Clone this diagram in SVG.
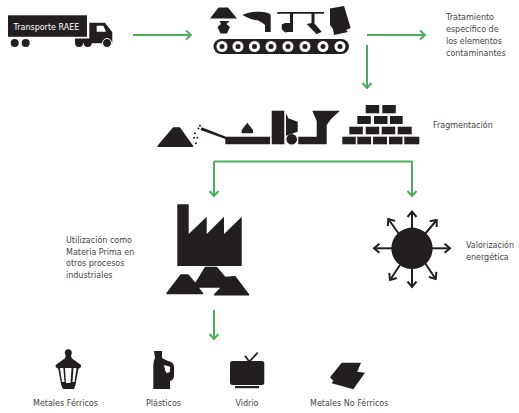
<svg xmlns="http://www.w3.org/2000/svg" width="519" height="413" viewBox="0 0 519 413">
<defs>
<marker id="ah" markerUnits="userSpaceOnUse" markerWidth="12" markerHeight="12" refX="8" refY="6" orient="auto"><path d="M3 1.500L8 6L3 10.500" fill="none" stroke="#4caf5c" stroke-width="2"/></marker>
<marker id="bh" markerUnits="userSpaceOnUse" markerWidth="12" markerHeight="12" refX="8" refY="6" orient="auto"><path d="M2.500 1.500L8 6L2.500 10.500" fill="none" stroke="#231f20" stroke-width="2"/></marker>
</defs>
<style>
text{font-family:"DejaVu Sans",Verdana,sans-serif;font-size:8px;fill:#444}
.k{fill:#231f20}
.w{fill:#fff}
.s{fill:#231f20;stroke:#231f20;stroke-width:1.500;stroke-linejoin:round}
.g{fill:none;stroke:#4caf5c;stroke-width:2;marker-end:url(#ah)}
.r{stroke:#231f20;stroke-width:2;marker-end:url(#bh);fill:none}
</style>
<rect width="519" height="413" fill="#fff"/>
<g id="connectors">
<path class="g" d="M133 35H191"/>
<path class="g" d="M367 35H425"/>
<path class="g" d="M367 45V88"/>
<path class="g" d="M214 161.500H412V196"/>
<path class="g" d="M214 161.500V196"/>
<path class="g" d="M214 310V339"/>
</g>
<g id="truck">
<rect class="k" x="8" y="15.300" width="79" height="21.500"/>
<path class="k" d="M89.300 22.700H105L112.300 32.300V43.300H75V38.500H89.300Z"/>
<path class="w" d="M96.700 25.700H103.300L106 31.700H96.700Z"/>
<circle class="k" cx="14.700" cy="43" r="4"/><circle class="k" cx="25.700" cy="43" r="4"/>
<circle class="k" cx="79" cy="43" r="4"/><circle class="k" cx="87.700" cy="43" r="4"/>
<circle class="k" cx="107" cy="43" r="4.500" stroke="#fff" stroke-width="1"/>
<text x="13.500" y="29.500" style="fill:#fff">Transporte RAEE</text>
</g>
<g id="conveyor">
<rect class="k" x="213.500" y="39" width="135.500" height="15" rx="7.500"/>
<g class="w"><circle cx="222" cy="46.500" r="5.500"/><circle cx="238" cy="46.500" r="5.500"/><circle cx="254.500" cy="46.500" r="5.500"/><circle cx="271" cy="46.500" r="5.500"/><circle cx="288" cy="46.500" r="5.500"/><circle cx="305" cy="46.500" r="5.500"/><circle cx="323" cy="46.500" r="5.500"/><circle cx="340" cy="46.500" r="5.500"/></g>
<g class="k"><circle cx="222" cy="46.500" r="2.500"/><circle cx="238" cy="46.500" r="2.500"/><circle cx="254.500" cy="46.500" r="2.500"/><circle cx="271" cy="46.500" r="2.500"/><circle cx="288" cy="46.500" r="2.500"/><circle cx="305" cy="46.500" r="2.500"/><circle cx="323" cy="46.500" r="2.500"/><circle cx="340" cy="46.500" r="2.500"/></g>
<path class="k" d="M210 18.500L218.500 7.500H228L237 18.500Z"/>
<path class="k" d="M219.500 21H229.500L226.500 24L230 27L227 33.500H220.500L217.500 27L221 24Z"/>
<path class="k" d="M242.300 15C248 12 256 11 263 12C268 12.500 271 14 270.700 16V32H265V25C262 22 258 20 255 20C251 19.500 246 17 242.300 15Z"/>
<path class="k" d="M277.300 12H324V13.800H314.500V23.500L321.700 31.700L316.700 34.300L306.700 24L311.500 23V13.800H293V32H288L285 32.500L281.700 29V24.500L285 23H290V13.800H277.300Z"/>
<path class="k" d="M330 8.500L344 6L350.700 28L346 30L348 32L334 35L333 29L330 25Z"/>
</g>
<g id="fragmentacion">
<path class="s" d="M158 146.300L173.500 128H179.500L192.500 146.300Z"/>
<g class="k"><circle cx="200" cy="125.700" r="1"/><circle cx="198.500" cy="128.500" r="1"/><circle cx="195" cy="133.300" r="1"/><circle cx="197.300" cy="137.700" r="1"/><circle cx="194" cy="137.700" r="1"/><circle cx="196" cy="143.300" r="1"/></g>
<path class="k" d="M201.700 127.300L226 136.700H270V144.300H225.300V139L200.500 130Z"/>
<path class="k" d="M247.300 122.700L253 130V133.300H241.700V130Z"/>
<rect class="k" x="271.700" y="110.700" width="12.600" height="33.600"/>
<path class="k" d="M286 113.300L288.300 118.300L297.700 121.700V131.700L286 135.700Z"/>
<circle class="k" cx="291.700" cy="139.300" r="5.300"/>
<path class="k" d="M298.300 136.700H316.700V121L312.300 110.700H340L331 119L326.700 125V144.300H298.300Z"/>
<g class="k">
<rect x="342.300" y="136.700" width="13.500" height="7.600"/><rect x="357.300" y="136.700" width="13.800" height="7.600"/><rect x="373" y="136.700" width="14" height="7.600"/><rect x="389" y="136.700" width="13.500" height="7.600"/><rect x="404.300" y="136.700" width="15" height="7.600"/>
<rect x="349.300" y="126.700" width="13.500" height="7.600"/><rect x="365.700" y="126.700" width="13.500" height="7.600"/><rect x="381.700" y="126.700" width="13.500" height="7.600"/><rect x="397.700" y="126.700" width="14" height="7.600"/>
<rect x="357.300" y="116" width="13.500" height="8"/><rect x="374" y="116" width="13.500" height="8"/><rect x="390" y="116" width="12.700" height="8"/>
<rect x="365.700" y="105" width="13.500" height="8.300"/><rect x="382.300" y="105" width="13.500" height="8.300"/>
</g>
</g>
<g id="fabrica">
<path class="k" d="M177.300 204.300H188.700V234L206.700 216.700V234L224 216.700V234L241.700 216.700V266H177.300Z"/>
<path class="s" d="M167 293.500L181 275H188L195.500 284L205.500 267.500H216.500L225 277.500L235 276.800L248.500 294.800H214.500L222 287H197.500L202.500 293.500Z"/>
</g>
<g id="valorizacion">
<circle class="k" cx="412" cy="248.300" r="20.700"/>
<path class="r" d="M412 230V211.500"/><path class="r" d="M412 267V287"/><path class="r" d="M394 248.300H374"/><path class="r" d="M430 248.300H450"/>
<path class="r" d="M399 234L388.300 219"/><path class="r" d="M425 234L436.700 220"/><path class="r" d="M400 265L390 280"/><path class="r" d="M425 263L435.700 279"/>
</g>
<g id="farol">
<circle class="k" cx="68.300" cy="352.700" r="3.500"/>
<path class="k" d="M66 355H71L71.700 358.300L81 365V367L78.300 369L75.500 385L74 389H63L61.200 385L58.300 369L55.700 367V365L65 358.300Z"/>
<path class="w" d="M60 368H63.300L64.500 382H62ZM65 368H71.500L70.500 383H66ZM73.500 368H76.500L74.500 382H72.500Z"/>
</g>
<g id="botella">
<path class="k" d="M154 351H162V358L168 361Q174 362 174 367V376Q174 380 170 381V389H153.300V365Q153.300 361 155 358Z"/>
<path class="w" d="M164 365L170 366.700V371.700L166.700 373.300L165 370Z"/>
</g>
<g id="tv">
<path d="M245 355.700L249.300 361.700L257.700 352.700" fill="none" stroke="#231f20" stroke-width="1.800"/>
<rect class="k" x="230" y="361" width="34.300" height="24" rx="2.500"/>
<rect class="k" x="235" y="386" width="24" height="2.200"/>
</g>
<g id="metal">
<path class="k" d="M341.700 362.700H361L357.300 371.700L365 372.700L353.300 389.300L331.700 383.300L333.300 380.700L330 377.300Z"/>
</g>
<g id="labels">
<text x="446" y="20">Tratamiento</text>
<text x="446" y="32">específico de</text>
<text x="446" y="44">los elementos</text>
<text x="446" y="56">contaminantes</text>
<text x="433" y="128">Fragmentación</text>
<text x="66" y="243">Utilización como</text>
<text x="66" y="255">Materia Prima en</text>
<text x="66" y="266">otros procesos</text>
<text x="66" y="278">industriales</text>
<text x="466" y="248">Valorización</text>
<text x="466" y="260">energética</text>
<text x="33" y="405.500">Metales Férricos</text>
<text x="146" y="405.500">Plásticos</text>
<text x="235.500" y="405.500">Vidrio</text>
<text x="310" y="405.500">Metales No Férricos</text>
</g>
</svg>
